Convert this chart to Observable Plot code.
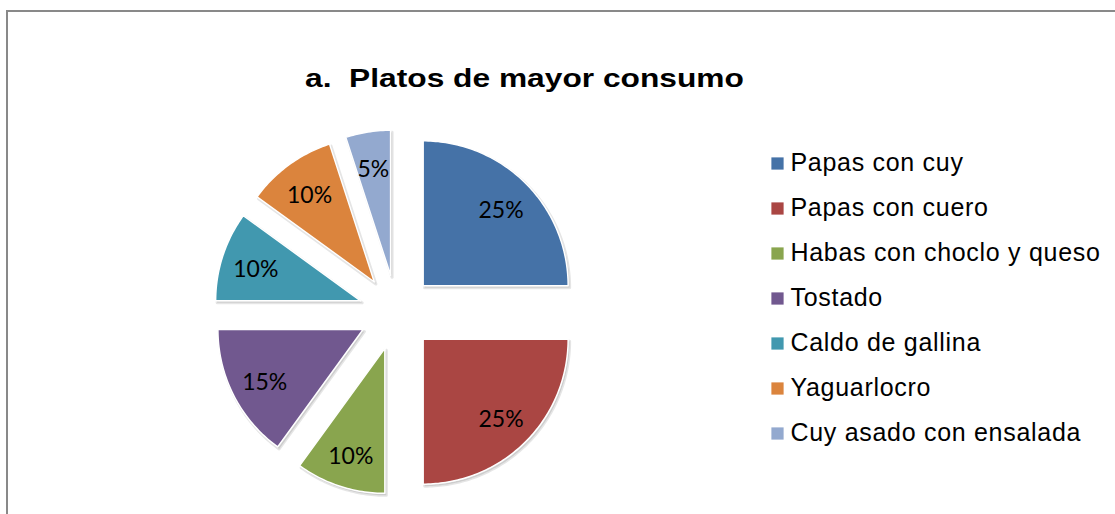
<!DOCTYPE html>
<html><head><meta charset="utf-8">
<script src="https://cdn.jsdelivr.net/npm/d3@7"></script>
<script src="https://cdn.jsdelivr.net/npm/@observablehq/plot@0.6"></script>
<style>
html,body{margin:0;padding:0;background:#fff;overflow:hidden;width:1115px;height:514px;position:relative;}
#frame{position:absolute;left:6px;top:10px;width:1200px;height:600px;border-left:2px solid #898989;border-top:2px solid #898989;}
#title{position:absolute;left:305px;top:64.7px;font:bold 26px "Liberation Sans",Arial,sans-serif;line-height:26px;white-space:pre;transform:scaleX(1.22);transform-origin:0 0;color:#000;}
.layer{position:absolute;left:0;top:0;}
</style></head><body>
<div id="frame"></div>
<div id="title">a.  Platos de mayor consumo</div>
<div id="pie" class="layer"></div>
<div id="legend" class="layer"></div>
<script>
const categories = ["Papas con cuy","Papas con cuero","Habas con choclo y queso","Tostado","Caldo de gallina","Yaguarlocro","Cuy asado con ensalada"];
const values = [25,25,10,15,10,10,5];
const labels = ["25%","25%","10%","15%","10%","10%","5%"];
const colors = ["#4572A7","#AA4643","#89A54E","#71588F","#4198AF","#DB843D","#93A9CF"];

const R = 145, cx = 396, cy = 312;
const explode = 0.26, labelPos = 0.76;

const arcs = d3.pie().sort(null).value((d, i) => values[i])(categories);
const slices = arcs.map((p, i) => ({name: categories[i], label: labels[i], start: p.startAngle, end: p.endAngle, mid: (p.startAngle + p.endAngle) / 2}));
const outline = slices.flatMap(s => {
  const ox = Math.sin(s.mid) * explode, oy = Math.cos(s.mid) * explode;
  const n = Math.max(2, Math.ceil((s.end - s.start) / (Math.PI / 180)));
  const pts = [{name: s.name, x: ox, y: oy}];
  for (let k = 0; k <= n; k++) {
    const a = s.start + (s.end - s.start) * k / n;
    pts.push({name: s.name, x: ox + Math.sin(a), y: oy + Math.cos(a)});
  }
  pts.push({name: s.name, x: ox, y: oy});
  return pts;
});

const piePlot = Plot.plot({
  width: 1115, height: 514, margin: 0,
  style: {background: "transparent"},
  x: {domain: [-1, 1], range: [cx - R, cx + R], axis: null},
  y: {domain: [-1, 1], range: [cy + R, cy - R], axis: null},
  color: {domain: categories, range: colors},
  marks: [
    Plot.line(outline, {x: "x", y: "y", z: "name", fill: "#000", fillOpacity: 0.10, stroke: "#000", strokeOpacity: 0.10, strokeWidth: 3, dx: 1.5, dy: 2, curve: "linear"}),
    Plot.line(outline, {x: "x", y: "y", z: "name", fill: "name", stroke: "#fff", strokeWidth: 1.5, curve: "linear"}),
    Plot.text(slices, {
      x: s => Math.sin(s.mid) * (explode + labelPos),
      y: s => Math.cos(s.mid) * (explode + labelPos),
      dy: 3,
      text: "label", fontSize: 23, fontFamily: "Lato", fill: "#000"
    })
  ]
});
document.getElementById("pie").appendChild(piePlot);

const legendPlot = Plot.plot({
  width: 1115, height: 514, margin: 0,
  style: {background: "transparent", letterSpacing: "0.7px"},
  y: {type: "point", domain: categories, range: [160, 433], padding: 0, axis: null},
  color: {domain: categories, range: colors},
  marks: [
    Plot.dot(categories, {y: d => d, frameAnchor: "left", dx: 777, dy: 1, symbol: "square", r: 6.9, fill: d => d, stroke: "none"}),
    Plot.text(categories, {y: d => d, text: d => d, frameAnchor: "left", dx: 790, textAnchor: "start", fontSize: 25, fontFamily: "Liberation Sans", fill: "#000"})
  ]
});
document.getElementById("legend").appendChild(legendPlot);
</script>
</body></html>
